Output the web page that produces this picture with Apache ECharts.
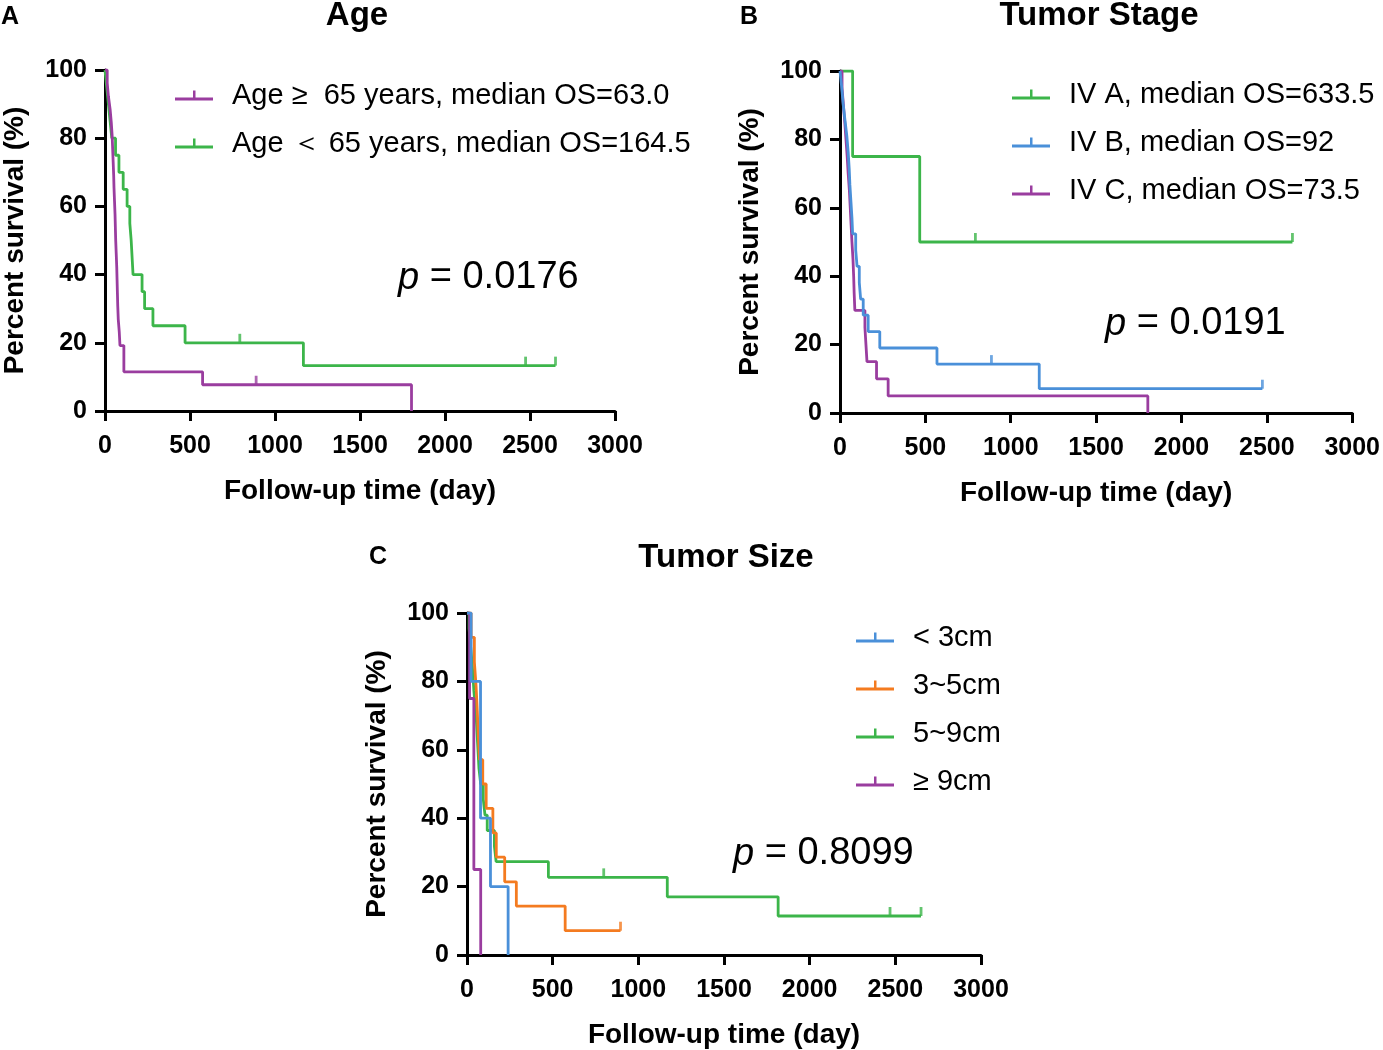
<!DOCTYPE html>
<html>
<head>
<meta charset="utf-8">
<script src="https://cdn.jsdelivr.net/npm/echarts@6/dist/echarts.min.js"></script>
<style>html,body{margin:0;padding:0;background:#fff;}#chart{width:1383px;height:1050px;}</style>
</head>
<body>
<div id="chart"></div>
<script>
// ---------- DATA ----------
const xTicks = [0, 500, 1000, 1500, 2000, 2500, 3000];
const yTicks = [0, 20, 40, 60, 80, 100];

// Panel A: Age
const ageOldName = 'Age \u2265  65 years, median OS=63.0';
const ageOldDays = [0, 13, 20, 30, 37, 42, 45, 48, 51, 53, 56, 59, 63, 66, 69, 71, 73, 75, 78, 84, 88, 111, 574, 1803];
const ageOldSurv = [100, 96.2, 92.3, 88.5, 84.6, 80.8, 76.9, 73.1, 69.2, 65.4, 61.5, 57.7, 50, 46.2, 42.3, 38.5, 34.6, 30.8, 26.9, 23.1, 19.2, 11.5, 7.7, 0];
const ageOldCensDays = [889];
const ageOldCensSurv = [7.7];

const ageYoungName = 'Age \uFF1C 65 years, median OS=164.5';
const ageYoungDays = [0, 10, 20, 30, 40, 62, 82, 107, 130, 146, 154, 165, 218, 233, 282, 471, 1167, 2650];
const ageYoungSurv = [100, 95, 90, 85, 80, 75, 70, 65, 60, 55, 50, 40, 35, 30, 25, 20, 13.3, 13.3];
const ageYoungCensDays = [793, 2474, 2650];
const ageYoungCensSurv = [20, 13.3, 13.3];

// Panel B: Tumor Stage
const ivaName = 'IV A, median OS=633.5';
const ivaDays = [0, 74, 467, 2650];
const ivaSurv = [100, 75, 50, 50];
const ivaCensDays = [793, 2650];
const ivaCensSurv = [50, 50];

const ivbName = 'IV B, median OS=92';
const ivbDays = [0, 10, 18, 29, 40, 48, 54, 58, 64, 70, 74, 92, 100, 113, 121, 136, 165, 233, 568, 1167, 2474];
const ivbSurv = [100, 95.2, 90.5, 85.7, 81, 76.2, 71.4, 66.7, 61.9, 57.1, 52.4, 47.6, 42.9, 38.1, 33.3, 28.6, 23.8, 19.0, 14.3, 7.1, 7.1];
const ivbCensDays = [887, 2474];
const ivbCensSurv = [14.3, 7.1];

const ivcName = 'IV C, median OS=73.5';
const ivcDays = [0, 12, 20, 28, 35, 42, 48, 55, 60, 65, 70, 76, 80, 83, 87, 146, 152, 158, 214, 282, 1803];
const ivcSurv = [100, 95, 90, 85, 80, 75, 70, 65, 60, 55, 50, 45, 40, 35, 30, 25, 20, 15, 10, 5, 0];

// Panel C: Tumor Size
const lt3Name = '< 3cm';
const lt3Days = [0, 24, 79, 137, 240];
const lt3Surv = [100, 80, 40, 20, 0];

const s35Name = '3~5cm';
const s35Days = [0, 24, 43, 53, 60, 66, 73, 92, 112, 151, 171, 220, 288, 573, 896];
const s35Surv = [100, 92.9, 85.7, 78.6, 71.4, 64.3, 57.1, 50, 42.9, 35.7, 28.6, 21.4, 14.3, 7.1, 7.1];
const s35CensDays = [896];
const s35CensSurv = [7.1];

const s59Name = '5~9cm';
const s59Days = [0, 12, 20, 28, 35, 40, 48, 55, 60, 65, 70, 80, 95, 105, 118, 160, 170, 475, 1169, 1816, 2650];
const s59Surv = [100, 95.5, 90.9, 86.4, 81.8, 77.3, 72.7, 68.2, 63.6, 59.1, 54.5, 50, 45.5, 40.9, 36.4, 31.8, 27.3, 22.7, 17.0, 11.4, 11.4];
const s59CensDays = [798, 2469, 2650];
const s59CensSurv = [22.7, 11.4, 11.4];

const ge9Name = '\u2265 9cm';
const ge9Days = [0, 15, 40, 80];
const ge9Surv = [100, 75, 25, 0];

const pA = '0.0176', pB = '0.0191', pC = '0.8099';

// ---------- STYLE ----------
const FONT = "'Liberation Sans', Arial, sans-serif";
const PURPLE = '#9a3d9f', GREEN = '#3cb54a', BLUE = '#4a90d9', ORANGE = '#f47b20';
const ICON = 'path://M0,7 L38,7 L38,10 L0,10 Z M18,0 L20.5,0 L20.5,7 L18,7 Z';

const zip = (a, b) => a.map((v, i) => [v, b[i]]);

function xAx(g) {
  return {
    gridIndex: g, type: 'value', min: xTicks[0], max: xTicks[xTicks.length - 1], interval: 500,
    axisLine: { show: true, lineStyle: { color: '#000', width: 3 } },
    axisTick: { show: true, length: 10, lineStyle: { color: '#000', width: 3 } },
    axisLabel: { color: '#000', fontFamily: FONT, fontWeight: 'bold', fontSize: 25, margin: 23, formatter: v => String(v) },
    splitLine: { show: false },
    name: 'Follow-up time (day)', nameLocation: 'middle', nameGap: 66,
    nameTextStyle: { color: '#000', fontFamily: FONT, fontWeight: 'bold', fontSize: 28 }
  };
}
function yAx(g) {
  return {
    gridIndex: g, type: 'value', min: yTicks[0], max: yTicks[yTicks.length - 1], interval: 20,
    axisLine: { show: true, lineStyle: { color: '#000', width: 3 } },
    axisTick: { show: true, length: 10, lineStyle: { color: '#000', width: 3 } },
    axisLabel: { color: '#000', fontFamily: FONT, fontWeight: 'bold', fontSize: 25, margin: 18, formatter: v => String(v) },
    splitLine: { show: false },
    name: 'Percent survival (%)', nameLocation: 'middle', nameGap: 76,
    nameTextStyle: { color: '#000', fontFamily: FONT, fontWeight: 'bold', fontSize: 28 }
  };
}
function line(name, g, days, surv, color) {
  return {
    name, type: 'line', step: 'end', xAxisIndex: g, yAxisIndex: g,
    data: zip(days, surv), showSymbol: false, symbol: 'none', color,
    lineStyle: { color, width: 2.8 }, itemStyle: { color }, animation: false, z: 3
  };
}
function cens(g, days, surv, color) {
  return {
    type: 'scatter', xAxisIndex: g, yAxisIndex: g, data: zip(days, surv),
    symbol: 'rect', symbolSize: [2.8, 9], symbolOffset: [0, -4.5],
    itemStyle: { color }, animation: false, z: 4, silent: true
  };
}
function legend(names, left, top) {
  return {
    data: names, left, top, orient: 'vertical', itemWidth: 38, itemHeight: 10, itemGap: 19,
    icon: ICON, selectedMode: false, padding: 0,
    textStyle: { color: '#000', fontFamily: FONT, fontSize: 29, padding: [0, 0, 0, 14] }
  };
}
function txt(text, x, y, size, weight) {
  return { type: 'text', x, y, style: { text, fill: '#000', fontFamily: FONT, fontSize: size, fontWeight: weight, textAlign: 'center', textVerticalAlign: 'middle' } };
}
function pval(v, x, y) {
  return {
    type: 'text', x, y,
    style: {
      text: '{i|p} = ' + v, fill: '#000', fontFamily: FONT, fontSize: 38, textAlign: 'left', textVerticalAlign: 'middle',
      rich: { i: { fontStyle: 'italic', fontFamily: FONT, fontSize: 38, fill: '#000' } }
    }
  };
}

const option = {
  backgroundColor: '#fff',
  animation: false,
  grid: [
    { left: 101, top: 70, width: 514, height: 341 },
    { left: 840, top: 71, width: 514, height: 342 },
    { left: 467, top: 613, width: 514, height: 343 }
  ],
  xAxis: [xAx(0), xAx(1), xAx(2)],
  yAxis: [yAx(0), yAx(1), yAx(2)],
  legend: [
    legend([ageOldName, ageYoungName], 175, 81),
    legend([ivaName, ivbName, ivcName], 1012, 80),
    legend([lt3Name, s35Name, s59Name, ge9Name], 856, 623)
  ],
  series: [
    line(ageYoungName, 0, ageYoungDays, ageYoungSurv, GREEN),
    cens(0, ageYoungCensDays, ageYoungCensSurv, GREEN),
    line(ageOldName, 0, ageOldDays, ageOldSurv, PURPLE),
    cens(0, ageOldCensDays, ageOldCensSurv, PURPLE),

    line(ivaName, 1, ivaDays, ivaSurv, GREEN),
    cens(1, ivaCensDays, ivaCensSurv, GREEN),
    line(ivcName, 1, ivcDays, ivcSurv, PURPLE),
    line(ivbName, 1, ivbDays, ivbSurv, BLUE),
    cens(1, ivbCensDays, ivbCensSurv, BLUE),

    line(s59Name, 2, s59Days, s59Surv, GREEN),
    cens(2, s59CensDays, s59CensSurv, GREEN),
    line(s35Name, 2, s35Days, s35Surv, ORANGE),
    cens(2, s35CensDays, s35CensSurv, ORANGE),
    line(ge9Name, 2, ge9Days, ge9Surv, PURPLE),
    line(lt3Name, 2, lt3Days, lt3Surv, BLUE)
  ],
  graphic: [
    txt('A', 10, 17, 25, 'bold'),
    txt('B', 749, 17, 25, 'bold'),
    txt('C', 378, 557, 25, 'bold'),
    txt('Age', 357, 16, 33, 'bold'),
    txt('Tumor Stage', 1099, 16, 33, 'bold'),
    txt('Tumor Size', 726, 558, 33, 'bold'),
    pval(pA, 398, 278),
    pval(pB, 1105, 324),
    pval(pC, 733, 854)
  ]
};

const chart = echarts.init(document.getElementById('chart'), null, { renderer: 'canvas' });
chart.setOption(option);
</script>
</body>
</html>
